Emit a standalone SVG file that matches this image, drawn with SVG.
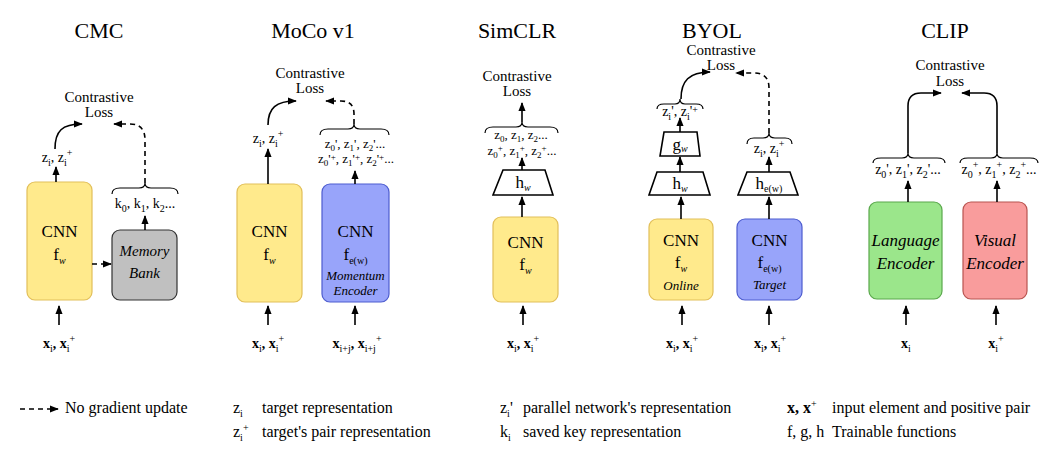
<svg xmlns="http://www.w3.org/2000/svg" width="1063" height="461" viewBox="0 0 1063 461">
<style>
text{font-family:"Liberation Serif","DejaVu Serif",serif;fill:#000;text-anchor:middle}
.title{font-size:22px}
.cl{font-size:15px}
.lbl{font-size:14px}
.zz{font-size:13px}
.cnn{font-size:17px}
.it{font-style:italic}
.b{font-weight:bold}
.s{font-size:10px;font-weight:normal}
.s9{font-size:9px}
.leg{font-size:16px;text-anchor:start}
.ln{stroke:#000;stroke-width:1.6;fill:none}
.br{stroke:#000;stroke-width:1.2;fill:none}
.dash{stroke-dasharray:5 4}
.yel{fill:#ffea8c;stroke:#e2bf5a;stroke-width:1.2}
.blu{fill:#98a4fa;stroke:#4d5ccf;stroke-width:1.2}
.gry{fill:#c0c0c0;stroke:#333;stroke-width:1.2}
.grn{fill:#9be68b;stroke:#5aa84c;stroke-width:1.2}
.red{fill:#f99c9c;stroke:#b85450;stroke-width:1.2}
.trap{fill:#fff;stroke:#000;stroke-width:1.6}
</style>
<defs>
<marker id="ah" viewBox="0 0 10 10" refX="9" refY="5" markerWidth="9" markerHeight="9" markerUnits="userSpaceOnUse" orient="auto"><path d="M0,1 L10,5 L0,9 z" fill="#000"/></marker>
</defs>

<g id="titles">
<text class="title" x="99" y="38">CMC</text>
<text class="title" x="313" y="38">MoCo v1</text>
<text class="title" x="517" y="38">SimCLR</text>
<text class="title" x="712" y="38">BYOL</text>
<text class="title" x="945" y="38">CLIP</text>
</g>

<!-- CMC -->
<g id="cmc-loss"><text class="cl" x="99" y="102">Contrastive</text><text class="cl" x="99" y="117">Loss</text></g>
<g id="cmc-cnn"><rect class="yel" x="27" y="182" width="65" height="118" rx="8"/><text class="cnn" x="59.5" y="237">CNN</text><text class="cnn" x="59.5" y="260">f<tspan class="s it" dy="4">w</tspan></text></g>
<g id="cmc-memory"><rect class="gry" x="112" y="230" width="65" height="70" rx="8"/><text class="cl it" x="144.5" y="256">Memory</text><text class="cl it" x="144.5" y="278">Bank</text></g>
<g id="cmc-z"><text class="lbl" x="57" y="162">z<tspan class="s" dy="4">i</tspan><tspan dy="-4">, z</tspan><tspan class="s" dy="4">i</tspan><tspan class="s" dy="-10">+</tspan></text></g>
<g id="cmc-k"><text class="lbl" x="145" y="208">k<tspan class="s" dy="4">0</tspan><tspan dy="-4">, k</tspan><tspan class="s" dy="4">1</tspan><tspan dy="-4">, k</tspan><tspan class="s" dy="4">2</tspan><tspan dy="-4">...</tspan></text></g>
<g id="cmc-x"><text class="lbl b" x="59" y="348">x<tspan class="s" dy="4">i</tspan><tspan dy="-4">, x</tspan><tspan class="s" dy="4">i</tspan><tspan class="s" dy="-10">+</tspan></text></g>

<!-- MoCo -->
<g id="moco-loss"><text class="cl" x="310" y="78">Contrastive</text><text class="cl" x="310" y="93">Loss</text></g>
<g id="moco-cnn"><rect class="yel" x="237" y="184" width="65" height="118" rx="8"/><text class="cnn" x="269.5" y="237">CNN</text><text class="cnn" x="269.5" y="260">f<tspan class="s it" dy="4">w</tspan></text></g>
<g id="moco-momentum"><rect class="blu" x="322" y="184" width="67" height="118" rx="8"/><text class="cnn" x="355.5" y="237">CNN</text><text class="cnn" x="355.5" y="260">f<tspan class="s" dy="4">e(w)</tspan></text><text class="it" style="font-size:13px" x="355.5" y="280">Momentum</text><text class="it" style="font-size:13px" x="355.5" y="295">Encoder</text></g>
<g id="moco-z"><text class="lbl" x="268" y="143">z<tspan class="s" dy="4">i</tspan><tspan dy="-4">, z</tspan><tspan class="s" dy="4">i</tspan><tspan class="s" dy="-10">+</tspan></text></g>
<g id="moco-zp"><text class="zz" x="355" y="148">z<tspan class="s9" dy="3">0</tspan><tspan dy="-3">', z</tspan><tspan class="s9" dy="3">1</tspan><tspan dy="-3">', z</tspan><tspan class="s9" dy="3">2</tspan><tspan dy="-3">'...</tspan></text><text class="zz" x="356" y="163">z<tspan class="s9" dy="3">0</tspan><tspan dy="-3">'</tspan><tspan class="s9" dy="-3">+</tspan><tspan dy="3">, z</tspan><tspan class="s9" dy="3">1</tspan><tspan dy="-3">'</tspan><tspan class="s9" dy="-3">+</tspan><tspan dy="3">, z</tspan><tspan class="s9" dy="3">2</tspan><tspan dy="-3">'</tspan><tspan class="s9" dy="-3">+</tspan><tspan dy="3">...</tspan></text></g>
<g id="moco-x"><text class="lbl b" x="268" y="348">x<tspan class="s" dy="4">i</tspan><tspan dy="-4">, x</tspan><tspan class="s" dy="4">i</tspan><tspan class="s" dy="-10">+</tspan></text><text class="lbl b" x="357" y="348">x<tspan class="s" dy="4">i+j</tspan><tspan dy="-4">, x</tspan><tspan class="s" dy="4">i+j</tspan><tspan class="s" dy="-10">+</tspan></text></g>

<!-- SimCLR -->
<g id="simclr-loss"><text class="cl" x="517" y="81">Contrastive</text><text class="cl" x="517" y="96">Loss</text></g>
<g id="simclr-z"><text class="zz" x="521" y="139">z<tspan class="s9" dy="3">0</tspan><tspan dy="-3">, z</tspan><tspan class="s9" dy="3">1</tspan><tspan dy="-3">, z</tspan><tspan class="s9" dy="3">2</tspan><tspan dy="-3">...</tspan></text><text class="zz" x="522" y="155">z<tspan class="s9" dy="3">0</tspan><tspan class="s9" dy="-7">+</tspan><tspan dy="4">, z</tspan><tspan class="s9" dy="3">1</tspan><tspan class="s9" dy="-7">+</tspan><tspan dy="4">, z</tspan><tspan class="s9" dy="3">2</tspan><tspan class="s9" dy="-7">+</tspan><tspan dy="4">...</tspan></text></g>
<g id="simclr-h"><polygon class="trap" points="503,170 545,170 553,195 493,195"/><text class="cnn" x="523" y="188">h<tspan class="s it" dy="3">w</tspan></text></g>
<g id="simclr-cnn"><rect class="yel" x="493" y="217" width="65" height="85" rx="8"/><text class="cnn" x="525.5" y="248">CNN</text><text class="cnn" x="525.5" y="270">f<tspan class="s it" dy="4">w</tspan></text></g>
<g id="simclr-x"><text class="lbl b" x="523" y="348">x<tspan class="s" dy="4">i</tspan><tspan dy="-4">, x</tspan><tspan class="s" dy="4">i</tspan><tspan class="s" dy="-10">+</tspan></text></g>

<!-- BYOL -->
<g id="byol-loss"><text class="cl" x="721" y="55">Contrastive</text><text class="cl" x="721" y="70">Loss</text></g>
<g id="byol-zp"><text class="lbl" x="680" y="116">z<tspan class="s" dy="4">i</tspan><tspan dy="-4">', z</tspan><tspan class="s" dy="4">i</tspan><tspan dy="-4">'</tspan><tspan class="s" dy="-3">+</tspan></text></g>
<g id="byol-g"><polygon class="trap" points="664,132 697,132 700,156 660,156"/><text class="cnn" x="680" y="150">g<tspan class="s it" dy="2">w</tspan></text></g>
<g id="byol-h"><polygon class="trap" points="657,172 703,172 710,195 649,195"/><text class="cnn" x="680" y="189">h<tspan class="s it" dy="3">w</tspan></text></g>
<g id="byol-online"><rect class="yel" x="649" y="219" width="64" height="81" rx="8"/><text class="cnn" x="681" y="246">CNN</text><text class="cnn" x="681" y="268">f<tspan class="s it" dy="4">w</tspan></text><text class="it" style="font-size:13px" x="681" y="290">Online</text></g>
<g id="byol-he"><polygon class="trap" points="747,172 790,172 798,195 738,195"/><text class="cnn" x="769" y="189">h<tspan class="s" dy="3">e(w)</tspan></text></g>
<g id="byol-target"><rect class="blu" x="737" y="219" width="65" height="81" rx="8"/><text class="cnn" x="769.5" y="246">CNN</text><text class="cnn" x="769.5" y="268">f<tspan class="s" dy="4">e(w)</tspan></text><text class="it" style="font-size:13px" x="769.5" y="289">Target</text></g>
<g id="byol-z"><text class="lbl" x="769" y="153">z<tspan class="s" dy="4">i</tspan><tspan dy="-4">, z</tspan><tspan class="s" dy="4">i</tspan><tspan class="s" dy="-10">+</tspan></text></g>
<g id="byol-x"><text class="lbl b" x="682" y="348">x<tspan class="s" dy="4">i</tspan><tspan dy="-4">, x</tspan><tspan class="s" dy="4">i</tspan><tspan class="s" dy="-10">+</tspan></text><text class="lbl b" x="770" y="348">x<tspan class="s" dy="4">i</tspan><tspan dy="-4">, x</tspan><tspan class="s" dy="4">i</tspan><tspan class="s" dy="-10">+</tspan></text></g>

<!-- CLIP -->
<g id="clip-loss"><text class="cl" x="950" y="70">Contrastive</text><text class="cl" x="950" y="86">Loss</text></g>
<g id="clip-zl"><text class="lbl" x="908" y="174">z<tspan class="s" dy="4">0</tspan><tspan dy="-4">', z</tspan><tspan class="s" dy="4">1</tspan><tspan dy="-4">', z</tspan><tspan class="s" dy="4">2</tspan><tspan dy="-4">'...</tspan></text></g>
<g id="clip-zv"><text class="lbl" x="999" y="174">z<tspan class="s" dy="4">0</tspan><tspan class="s" dy="-10">+</tspan><tspan dy="6">, z</tspan><tspan class="s" dy="4">1</tspan><tspan class="s" dy="-10">+</tspan><tspan dy="6">, z</tspan><tspan class="s" dy="4">2</tspan><tspan class="s" dy="-10">+</tspan><tspan dy="6">...</tspan></text></g>
<g id="clip-language"><rect class="grn" x="869" y="202" width="73" height="97" rx="8"/><text class="cnn it" x="905.5" y="246">Language</text><text class="cnn it" x="905.5" y="269">Encoder</text></g>
<g id="clip-visual"><rect class="red" x="963" y="202" width="64" height="97" rx="8"/><text class="cnn it" x="995" y="246">Visual</text><text class="cnn it" x="995" y="269">Encoder</text></g>
<g id="clip-x"><text class="lbl b" x="906" y="348">x<tspan class="s" dy="4">i</tspan></text><text class="lbl b" x="996" y="348">x<tspan class="s" dy="4">i</tspan><tspan class="s" dy="-10">+</tspan></text></g>

<!-- connectors -->
<g id="connectors">
<path class="ln" d="M59,325 L59,306" marker-end="url(#ah)"/>
<path class="ln" d="M56,182 L56,167" marker-end="url(#ah)"/>
<path class="ln" d="M55,149 C55,131 62,124 82,124" marker-end="url(#ah)"/>
<path class="ln dash" d="M92,264 L111,264" marker-end="url(#ah)"/>
<path class="ln" d="M145,230 L145,216" marker-end="url(#ah)"/>
<path class="br" d="M112,194 Q112,188 120,188 L139,188 Q145,188 145,183 Q145,188 151,188 L170,188 Q178,188 178,194"/>
<path class="ln dash" d="M145,183 L145,140 Q145,124 130,124 L114,124" marker-end="url(#ah)"/>
<path class="ln" d="M268,325 L268,306" marker-end="url(#ah)"/>
<path class="ln" d="M355,325 L355,306" marker-end="url(#ah)"/>
<path class="ln" d="M268,184 L268,149" marker-end="url(#ah)"/>
<path class="ln" d="M268,125 C268,108 276,101 296,101" marker-end="url(#ah)"/>
<path class="ln" d="M355,184 L355,171" marker-end="url(#ah)"/>
<path class="br" d="M320,135 Q320,129 328,129 L348,129 Q354,129 354,124 Q354,129 360,129 L381,129 Q389,129 389,135"/>
<path class="ln dash" d="M354,124 L354,114 Q354,101 341,101 L326,101" marker-end="url(#ah)"/>
<path class="ln" d="M523,325 L523,306" marker-end="url(#ah)"/>
<path class="ln" d="M522,217 L522,197" marker-end="url(#ah)"/>
<path class="ln" d="M522,170 L522,158" marker-end="url(#ah)"/>
<path class="br" d="M485,133 Q485,127 493,127 L516,127 Q522,127 522,122 Q522,127 528,127 L550,127 Q558,127 558,133"/>
<path class="ln" d="M522,122 L522,103" marker-end="url(#ah)"/>
<path class="ln" d="M682,325 L682,306" marker-end="url(#ah)"/>
<path class="ln" d="M769,325 L769,306" marker-end="url(#ah)"/>
<path class="ln" d="M681,219 L681,197" marker-end="url(#ah)"/>
<path class="ln" d="M680,172 L680,157" marker-end="url(#ah)"/>
<path class="ln" d="M680,132 L680,118" marker-end="url(#ah)"/>
<path class="br" d="M657,109 Q657,104 664,104 L675,104 Q680,104 680,99 Q680,104 685,104 L696,104 Q703,104 703,109"/>
<path class="ln" d="M681,99 C681,81 689,72 710,72" marker-end="url(#ah)"/>
<path class="ln" d="M769,219 L769,197" marker-end="url(#ah)"/>
<path class="ln" d="M769,172 L769,157" marker-end="url(#ah)"/>
<path class="br" d="M747,144 Q747,138 754,138 L763,138 Q769,138 769,133 Q769,138 775,138 L785,138 Q792,138 792,144"/>
<path class="ln dash" d="M769,133 L769,88 Q769,73 754,73 L736,73" marker-end="url(#ah)"/>
<path class="ln" d="M906,325 L906,306" marker-end="url(#ah)"/>
<path class="ln" d="M996,325 L996,306" marker-end="url(#ah)"/>
<path class="ln" d="M908,202 L908,181" marker-end="url(#ah)"/>
<path class="ln" d="M997,202 L997,181" marker-end="url(#ah)"/>
<path class="br" d="M873,163 Q873,158 881,158 L902,158 Q908,158 908,153 Q908,158 914,158 L937,158 Q945,158 945,163"/>
<path class="br" d="M960,163 Q960,158 968,158 L991,158 Q997,158 997,153 Q997,158 1003,158 L1030,158 Q1038,158 1038,163"/>
<path class="ln" d="M908,153 L908,106 Q908,93 921,93 L941,93" marker-end="url(#ah)"/>
<path class="ln" d="M997,153 L997,106 Q997,93 984,93 L962,93" marker-end="url(#ah)"/>
</g>

<!-- legend -->
<g id="legend">
<path class="ln dash" d="M20,409 L58,409" marker-end="url(#ah)"/>
<text class="leg" x="65" y="413">No gradient update</text>
<text class="leg" x="233" y="413">z<tspan class="s" dy="4">i</tspan></text>
<text class="leg" x="262" y="413">target representation</text>
<text class="leg" x="233" y="437">z<tspan class="s" dy="4">i</tspan><tspan class="s" dy="-10">+</tspan></text>
<text class="leg" x="262" y="437">target's pair representation</text>
<text class="leg" x="500" y="413">z<tspan class="s" dy="4">i</tspan><tspan dy="-4">'</tspan></text>
<text class="leg" x="523" y="413">parallel network's representation</text>
<text class="leg" x="500" y="437">k<tspan class="s" dy="4">i</tspan></text>
<text class="leg" x="523" y="437">saved key representation</text>
<text class="leg b" x="787" y="413">x, x<tspan class="s" dy="-6">+</tspan></text>
<text class="leg" x="832" y="413">input element and positive pair</text>
<text class="leg" x="787" y="437">f, g, h</text>
<text class="leg" x="832" y="437">Trainable functions</text>
</g>
</svg>
